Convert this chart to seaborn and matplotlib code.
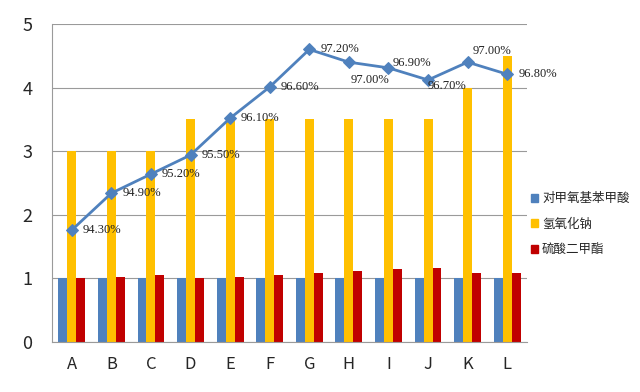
import pandas as pd
import matplotlib
matplotlib.use("Agg")
import matplotlib.pyplot as plt
import seaborn as sns
from matplotlib.patches import Patch
from matplotlib.ticker import FixedLocator

# data
categories = ['A', 'B', 'C', 'D', 'E', 'F', 'G', 'H', 'I', 'J', 'K', 'L']
series_names = ['对甲氧基苯甲酸', '氢氧化钠', '硫酸二甲酯']
acid = [1, 1, 1, 1, 1, 1, 1, 1, 1, 1, 1, 1]
naoh = [3, 3, 3, 3.5, 3.5, 3.5, 3.5, 3.5, 3.5, 3.5, 4, 4.5]
dms = [1.0, 1.02, 1.05, 1.0, 1.02, 1.05, 1.08, 1.11, 1.14, 1.17, 1.08, 1.08]
yield_pos = [1.76, 2.34, 2.64, 2.94, 3.52, 4.01, 4.6, 4.4, 4.31, 4.12, 4.4, 4.21]
yield_labels = ['94.30%', '94.90%', '95.20%', '95.50%', '96.10%', '96.60%',
                '97.20%', '97.00%', '96.90%', '96.70%', '97.00%', '96.80%']

colors = ['#4F81BD', '#FFC000', '#C00000']

sns.set_style('white')
plt.rcParams['font.family'] = ['Noto Sans CJK SC', 'DejaVu Sans']

df = pd.DataFrame({
    'cat': categories * 3,
    'series': [series_names[0]] * 12 + [series_names[1]] * 12 + [series_names[2]] * 12,
    'value': acid + naoh + dms,
})

fig, ax = plt.subplots(figsize=(6.4, 3.92), dpi=100)
fig.subplots_adjust(left=52 / 640, right=527 / 640, top=1 - 24 / 392, bottom=1 - 342 / 392)

sns.barplot(data=df, x='cat', y='value', hue='series', palette=colors,
            width=0.68, gap=0, saturation=1, legend=False, linewidth=0, ax=ax)
sns.lineplot(x=categories, y=yield_pos, color='#4F81BD', linewidth=2,
             marker='D', markersize=6, markeredgecolor='#4F81BD', ax=ax, zorder=5)

# label offsets in pixels (right of the marker unless noted)
offsets = {7: (2, -18), 8: (4, 5), 9: (0, -6), 10: (5, 11)}
for i, lab in enumerate(yield_labels):
    dx, dy = offsets.get(i, (11, 0))
    ax.annotate(lab, (i, yield_pos[i]), xytext=(dx, dy), textcoords='offset pixels',
                ha='left', va='center', fontsize=9, family='Liberation Serif',
                color='#222222', zorder=6)

ax.set_xlim(-0.5, 11.5)
ax.set_ylim(0, 5)
ax.set_yticks([0, 1, 2, 3, 4, 5])
ax.yaxis.grid(True, color='#9a9a9a', linewidth=0.8)
ax.set_axisbelow(True)
ax.set_xlabel('')
ax.set_ylabel('')
for s in ['top', 'right']:
    ax.spines[s].set_visible(False)
for s in ['left', 'bottom']:
    ax.spines[s].set_color('#9a9a9a')
    ax.spines[s].set_linewidth(0.8)

ax.tick_params(axis='y', length=0, labelsize=13, pad=14)
ax.tick_params(axis='x', which='major', length=0, labelsize=12, pad=10)
ax.xaxis.set_minor_locator(FixedLocator([i - 0.5 for i in range(13)]))
ax.tick_params(axis='x', which='minor', length=5, color='#9a9a9a', width=0.8)

handles = [Patch(color=c) for c in colors]
ax.legend(handles, series_names, loc='center left', bbox_to_anchor=(0.995, 0.37),
          frameon=False, fontsize=9, handlelength=0.6, handleheight=0.6,
          handletextpad=0.3, labelspacing=1.0, borderaxespad=0.1)

plt.savefig('out.png', dpi=100)
